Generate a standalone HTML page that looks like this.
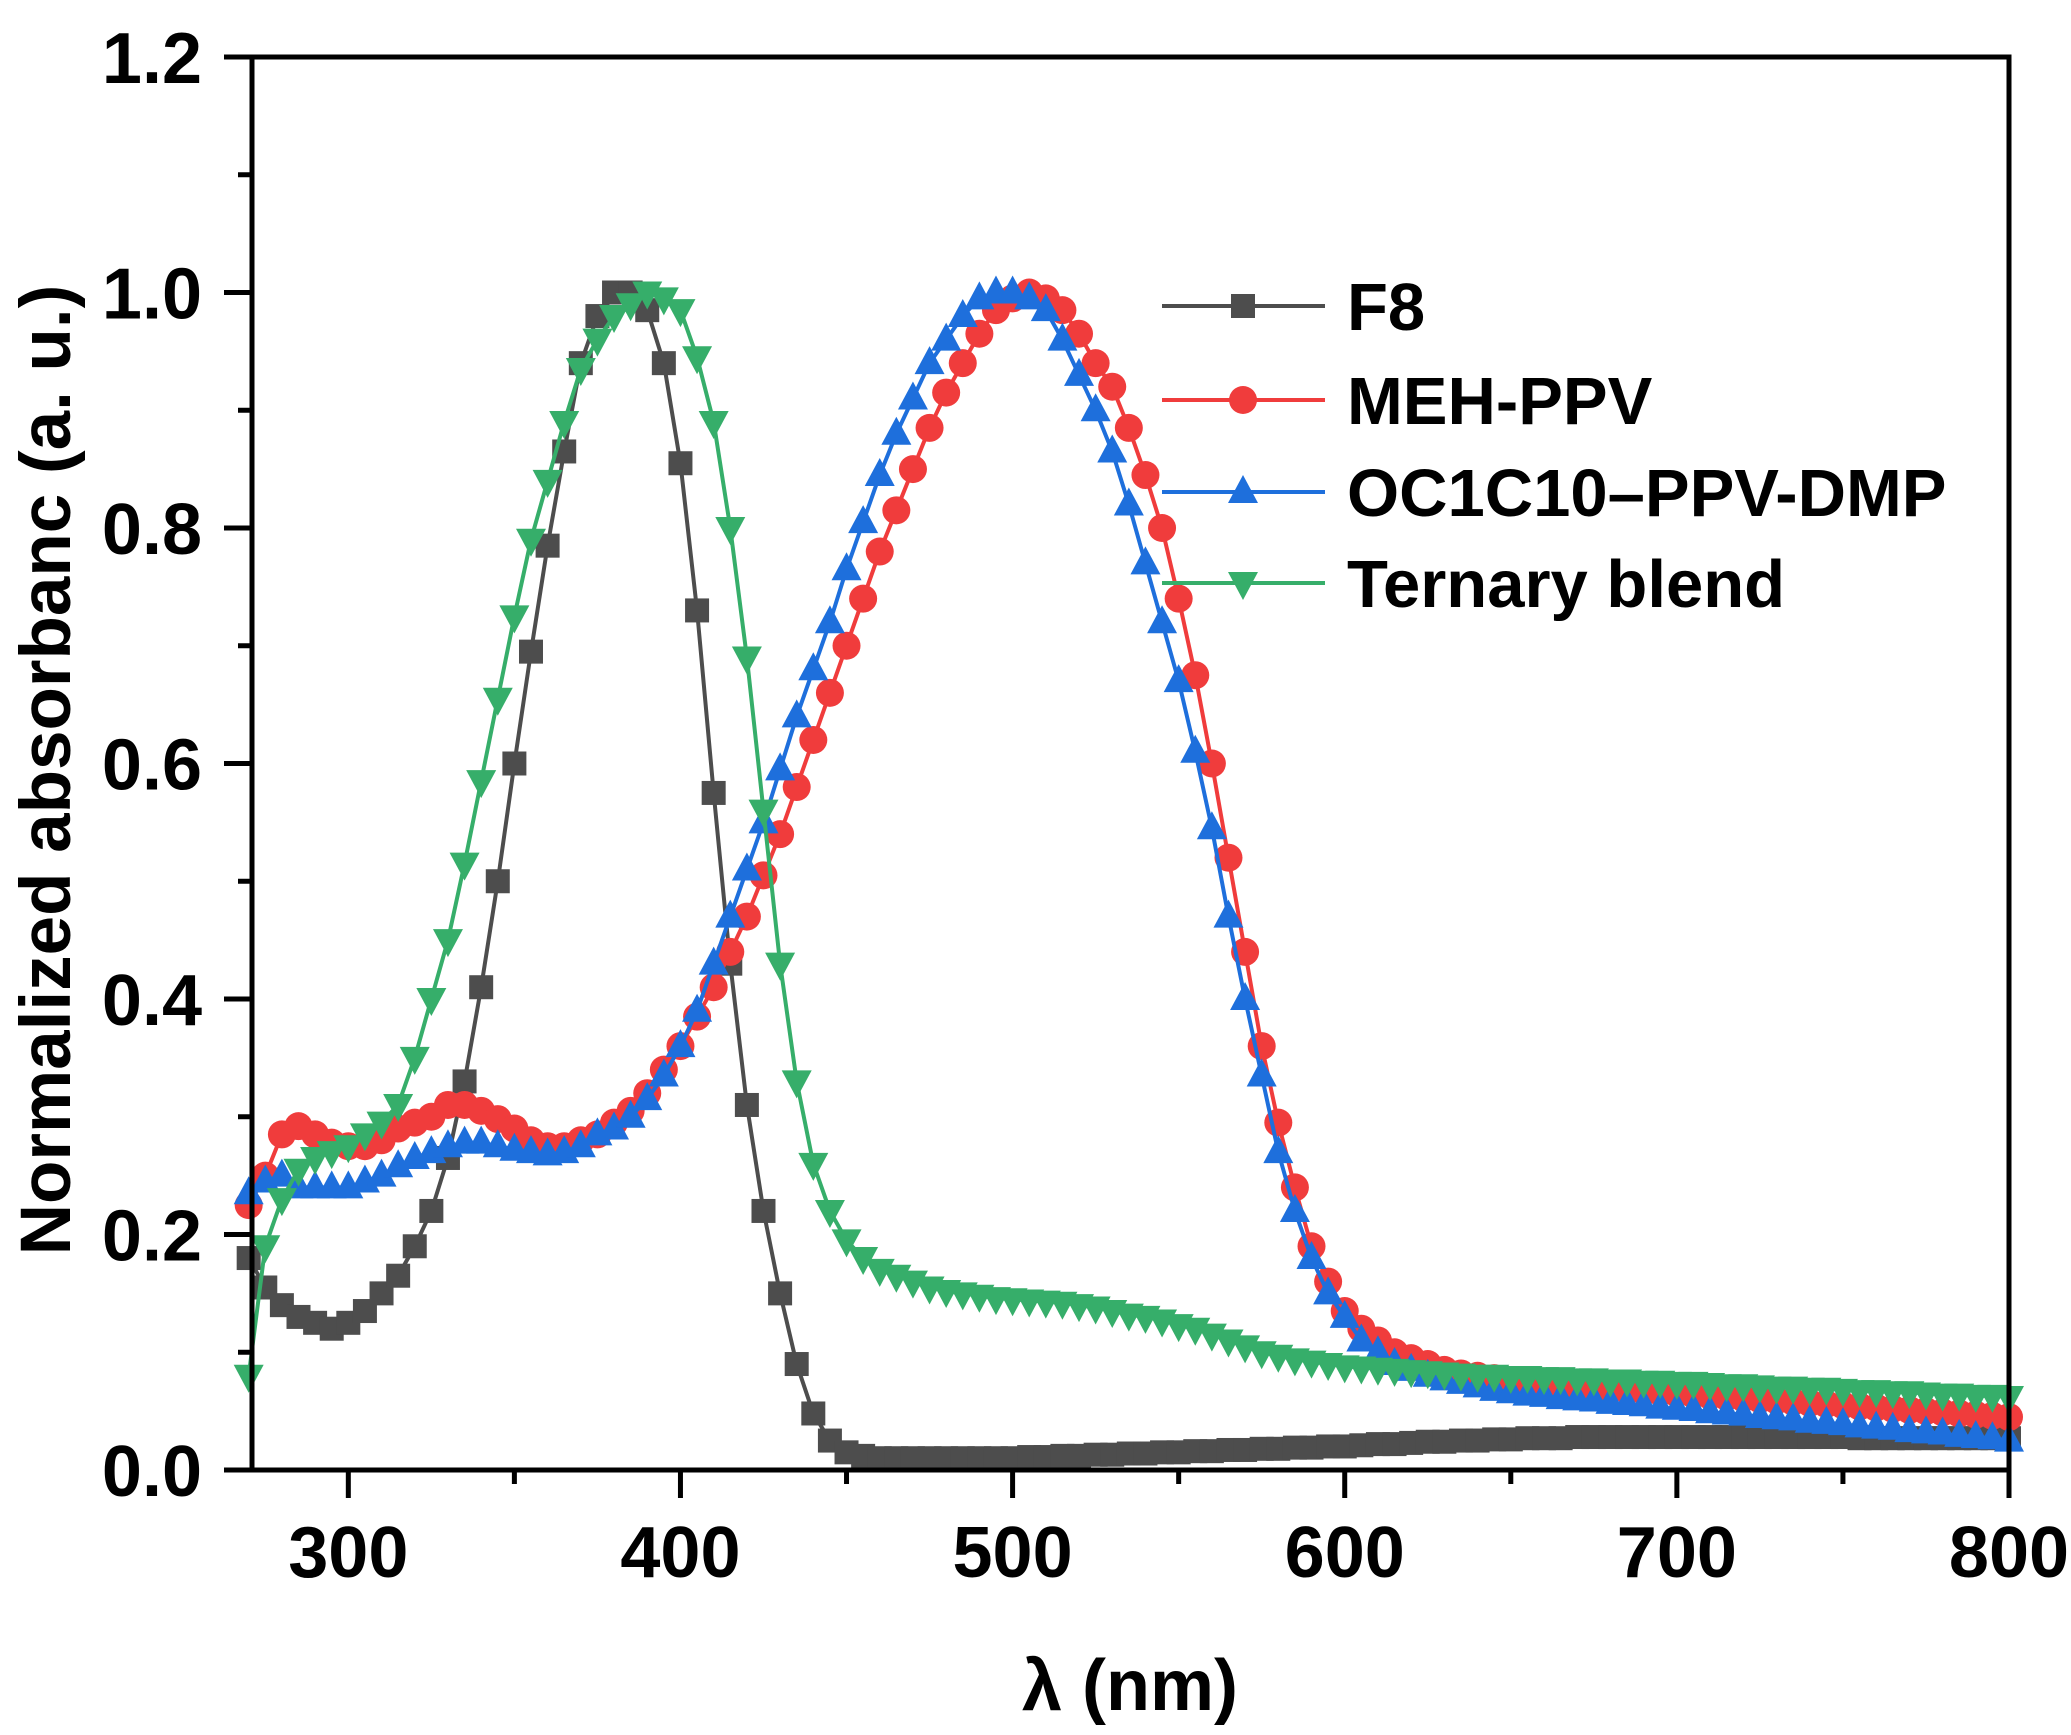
<!DOCTYPE html>
<html><head><meta charset="utf-8"><style>
html,body{margin:0;padding:0;background:#fff;}
svg{display:block;font-family:"Liberation Sans",Arial,sans-serif;font-weight:bold;}
</style></head><body>
<svg id="chart" width="2071" height="1735" viewBox="0 0 2071 1735" xmlns="http://www.w3.org/2000/svg"></svg>
<script>
const xTicks=[300,400,500,600,700,800];
const yTicks=[0.0,0.2,0.4,0.6,0.8,1.0,1.2];
const yTickLabels=["0.0","0.2","0.4","0.6","0.8","1.0","1.2"];
const seriesNames=["F8","MEH-PPV","OC1C10–PPV-DMP","Ternary blend"];
const f8=[0.18,0.155,0.14,0.13,0.125,0.12,0.125,0.135,0.15,0.165,0.19,0.22,0.265,0.33,0.41,0.50,0.60,0.695,0.785,0.865,0.94,0.98,1.0,1.0,0.985,0.94,0.855,0.73,0.575,0.43,0.31,0.22,0.15,0.09,0.048,0.025,0.015,
0.012,0.01,0.01,0.01,0.01,0.01,0.01,0.01,0.01,0.01,0.011,0.011,0.012,0.012,0.013,0.013,0.014,0.014,0.015,0.015,
0.016,0.016,0.017,0.017,0.018,0.018,0.019,0.019,0.02,0.02,0.021,0.022,0.022,0.023,0.024,0.024,0.025,0.025,0.026,0.026,
0.027,0.027,0.027,0.028,0.028,0.028,0.028,0.028,0.028,0.028,0.028,0.028,0.028,0.028,0.028,0.028,0.028,0.028,0.028,0.028,0.027,0.027,0.027,0.027,0.027,0.027,0.027,0.027,0.027,0.027];
const meh=[0.225,0.25,0.285,0.292,0.285,0.278,0.275,0.275,0.28,0.29,0.295,0.30,0.31,0.31,0.305,0.298,0.29,0.28,0.275,0.275,0.28,0.285,0.295,0.305,0.32,0.34,0.36,0.385,0.41,0.44,0.47,0.505,0.54,0.58,0.62,0.66,0.70,0.74,0.78,0.815,0.85,0.885,0.915,0.94,0.965,0.985,0.995,1.0,0.995,0.985,0.965,0.94,0.92,0.885,0.845,0.80,0.74,0.675,0.60,0.52,0.44,0.36,0.295,0.24,0.19,0.16,0.135,0.12,0.11,0.10,0.095,0.09,0.085,0.082,0.08,0.078,0.075,
0.074,0.073,0.072,0.071,0.07,0.069,0.068,0.067,0.066,0.065,0.064,0.063,0.062,0.061,0.06,0.059,0.058,0.057,0.056,0.055,0.054,0.053,0.052,0.051,0.05,0.049,0.048,0.047,0.046,0.045];
const oc=[0.235,0.245,0.25,0.24,0.24,0.24,0.24,0.245,0.25,0.258,0.265,0.27,0.275,0.278,0.278,0.275,0.272,0.27,0.268,0.27,0.275,0.285,0.29,0.30,0.315,0.335,0.36,0.39,0.43,0.47,0.51,0.55,0.595,0.64,0.68,0.72,0.765,0.805,0.845,0.88,0.91,0.94,0.96,0.98,0.995,1.0,1.0,0.995,0.985,0.96,0.93,0.90,0.865,0.82,0.77,0.72,0.67,0.61,0.545,0.47,0.40,0.335,0.27,0.22,0.18,0.15,0.13,0.11,0.10,0.09,0.085,0.08,0.077,0.074,0.071,0.068,0.066,
0.064,0.063,0.061,0.06,0.059,0.057,0.056,0.055,0.053,0.052,0.051,0.049,0.048,0.047,0.045,0.044,0.043,0.041,0.04,0.039,0.037,0.036,0.035,0.033,0.032,0.031,0.029,0.028,0.027,0.025];
const tern=[0.08,0.19,0.23,0.255,0.265,0.27,0.275,0.285,0.295,0.31,0.35,0.40,0.45,0.515,0.585,0.655,0.725,0.79,0.84,0.89,0.935,0.96,0.98,0.99,1.0,0.995,0.985,0.945,0.89,0.80,0.69,0.56,0.43,0.33,0.26,0.22,0.195,0.18,0.17,0.165,0.16,0.155,0.152,0.15,0.148,0.146,0.145,0.144,0.143,0.142,0.14,0.138,0.135,0.132,0.13,0.127,0.123,0.12,0.115,0.11,0.105,0.10,0.097,0.094,0.092,0.09,0.088,0.087,0.086,0.085,0.084,0.083,0.082,0.081,0.08,0.08,0.079,
0.079,0.078,0.078,0.077,0.077,0.076,0.076,0.075,0.075,0.074,0.074,0.073,0.072,0.072,0.071,0.07,0.07,0.069,0.069,0.068,0.067,0.067,0.066,0.066,0.065,0.064,0.064,0.063,0.063,0.062];
const wlStart=270, wlStep=5;

const svg=document.getElementById('chart');
const NS="http://www.w3.org/2000/svg";
const L=252,R=2009,T=57,B=1470;
const xMin=271,xMax=800,yMin=0,yMax=1.2;
function xs(v){return L+(v-xMin)/(xMax-xMin)*(R-L);}
function ys(v){return B-(v-yMin)/(yMax-yMin)*(B-T);}
function el(tag,attrs,parent){const e=document.createElementNS(NS,tag);for(const k in attrs)e.setAttribute(k,attrs[k]);(parent||svg).appendChild(e);return e;}

const colors=["#4d4d4d","#f03c3c","#1e6fdc","#36ae6a"];
const data=[f8,meh,oc,tern];
const markers=["square","circle","tri-up","tri-down"];
function marker(type,x,y,c,g){
  let m;
  if(type==="square") m=el('rect',{x:x-12,y:y-12,width:24,height:24,fill:c},g);
  else if(type==="circle") m=el('circle',{cx:x,cy:y,r:14,fill:c},g);
  else if(type==="tri-up") m=el('polygon',{points:`${x},${y-17} ${x-15},${y+11} ${x+15},${y+11}`,fill:c},g);
  else m=el('polygon',{points:`${x},${y+17} ${x-15},${y-11} ${x+15},${y-11}`,fill:c},g);
  return m;
}
data.forEach((arr,si)=>{
  const g=el('g',{});
  
  
  const pts=arr.map((v,i)=>[xs(wlStart+i*wlStep),ys(v)]);
  const line=el('polyline',{points:pts.map(p=>p.join(',')).join(' '),fill:'none',stroke:colors[si],'stroke-width':4},g);
  
  
  pts.forEach(p=>{const m=marker(markers[si],p[0],p[1],colors[si],g);
    
    });
});

const frame=el('rect',{x:L,y:T,width:R-L,height:B-T,fill:'none',stroke:'#000','stroke-width':5});


yTicks.forEach((v,i)=>{
  const y=ys(v);
  el('line',{x1:L-28,x2:L,y1:y,y2:y,stroke:'#000','stroke-width':5});
  const t=el('text',{x:L-50,y:y+26,'text-anchor':'end','font-size':72});
  t.textContent=yTickLabels[i];
  
  
  if(i<yTicks.length-1){const ym=ys(v+0.1);el('line',{x1:L-14,x2:L,y1:ym,y2:ym,stroke:'#000','stroke-width':5});}
});
xTicks.forEach((v,i)=>{
  const x=xs(v);
  el('line',{x1:x,x2:x,y1:B,y2:B+28,stroke:'#000','stroke-width':5});
  const t=el('text',{x:x,y:1577,'text-anchor':'middle','font-size':72});
  t.textContent=v;
  
  
  if(i<xTicks.length-1){const xm=xs(v+50);el('line',{x1:xm,x2:xm,y1:B,y2:B+14,stroke:'#000','stroke-width':5});}
});
const xt=el('text',{x:1130,y:1710,'text-anchor':'middle','font-size':72});
xt.textContent="λ (nm)";


const yt=el('text',{x:0,y:0,'text-anchor':'middle','font-size':71,transform:'translate(70,770) rotate(-90)'});
yt.textContent="Normalized absorbanc (a. u.)";


const legY=[306,400,492,583];
seriesNames.forEach((n,i)=>{
  const g=el('g',{});
  
  
  el('line',{x1:1162,x2:1325,y1:legY[i],y2:legY[i],stroke:colors[i],'stroke-width':4},g);
  marker(markers[i],1243,legY[i],colors[i],g);
  const t=el('text',{x:1347,y:legY[i]+24,'font-size':67},g);
  t.textContent=n;
});
</script>
</body></html>
